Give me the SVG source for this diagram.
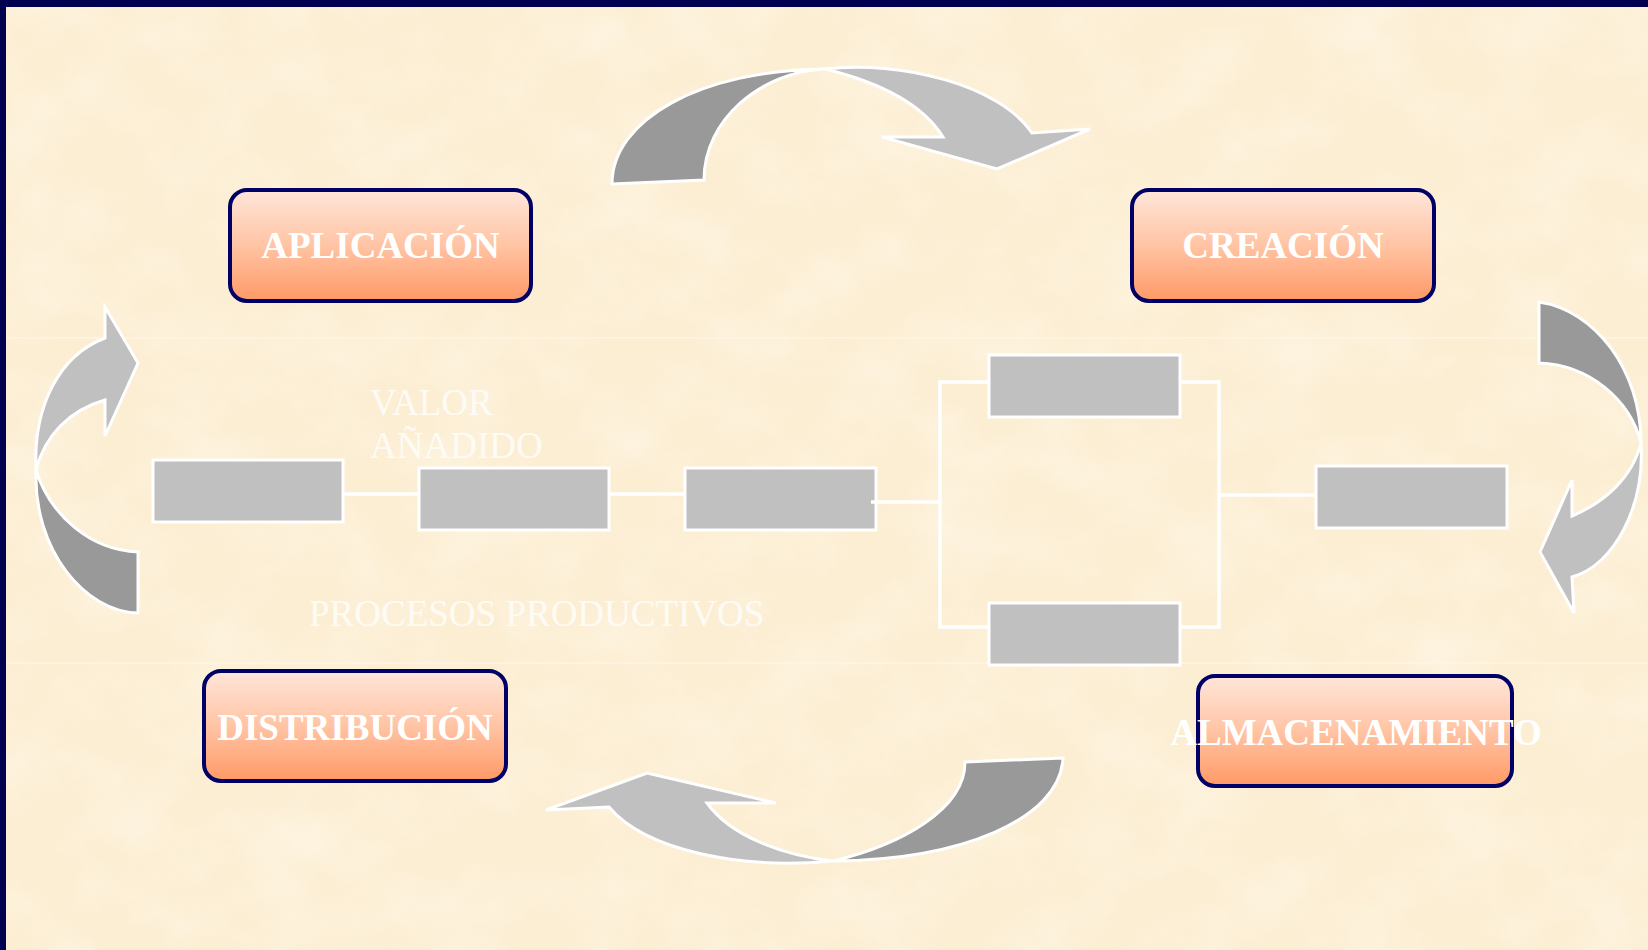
<svg xmlns="http://www.w3.org/2000/svg" width="1648" height="950" viewBox="0 0 1648 950">
<defs>
<linearGradient id="boxGrad" x1="0" y1="0" x2="0" y2="1">
<stop offset="0" stop-color="#FFE6DA"/>
<stop offset="0.5" stop-color="#FFC4A4"/>
<stop offset="1" stop-color="#FF9966"/>
</linearGradient>
<filter id="paper" x="0" y="0" width="100%" height="100%">
<feTurbulence type="fractalNoise" baseFrequency="0.012 0.016" numOctaves="4" seed="7" result="n"/>
<feColorMatrix in="n" type="matrix" values="0 0 0 0 1  0 0 0 0 0.97  0 0 0 0 0.9  1.2 0 0 0 -0.45"/>
</filter>
<style>
.bg{fill:#FCEED3}
.frame{fill:#000050}
.box{fill:url(#boxGrad);stroke:#000066;stroke-width:4}
.boxText{font-family:"Liberation Serif","Times New Roman",serif;font-weight:bold;font-size:37px;fill:#FFFFFF;text-anchor:middle}
.gray{fill:#C0C0C0;stroke:#FFFFFF;stroke-width:3}
.conn{stroke:#FFFFFF;stroke-width:3.5;fill:none}
.light{fill:#C0C0C0;stroke:#FFFFFF;stroke-width:3;stroke-linejoin:miter}
.dark{fill:#999999;stroke:#FFFFFF;stroke-width:3;stroke-linejoin:miter}
.label{font-family:"Liberation Serif","Times New Roman",serif;font-size:37px;fill:#FFFFFF;fill-opacity:0.8}
.seam{stroke:#FFF6E4;stroke-width:2;opacity:0.7}
</style>
</defs>
<rect class="bg" x="0" y="0" width="1648" height="950"/>
<rect x="0" y="0" width="1648" height="950" filter="url(#paper)" opacity="0.6"/>
<line class="seam" x1="6" y1="338" x2="1648" y2="338"/>
<line class="seam" x1="6" y1="663" x2="1648" y2="663"/>
<rect class="frame" x="0" y="0" width="1648" height="7"/>
<rect class="frame" x="0" y="0" width="6" height="950"/>

<g id="connectors">
<line class="conn" x1="343" y1="494" x2="419" y2="494"/>
<line class="conn" x1="609" y1="494" x2="685" y2="494"/>
<line class="conn" x1="871" y1="502" x2="940" y2="502"/>
<polyline class="conn" points="989,382 940,382 940,627 989,627"/>
<polyline class="conn" points="1180,382 1219,382 1219,627 1180,627"/>
<line class="conn" x1="1219" y1="495" x2="1316" y2="495"/>
</g>

<g id="arrow-top">
<path class="dark" d="M 612 184 C 612 120, 700 70, 825 69 C 760 72, 704 120, 704 180 Z"/>
<path class="light" d="M 825 69 C 900 60, 1000 85, 1032 133 L 1090 129 L 997 169 L 882 137 L 943 137 C 920 100, 870 80, 825 69 Z"/>
</g>
<g id="arrow-right">
<path class="dark" d="M 1539 302 C 1595 310, 1641 370, 1641 443 C 1630 400, 1590 365, 1539 363 Z"/>
<path class="light" d="M 1641 443 C 1645 505, 1615 565, 1572 577 L 1574 613 L 1540 552 L 1572 480 L 1572 516 C 1605 502, 1632 478, 1641 443 Z"/>
</g>
<g id="arrow-bottom">
<path class="dark" d="M 1063 758 C 1060 820, 960 860, 833 861 C 900 845, 965 810, 965 762 Z"/>
<path class="light" d="M 833 861 C 740 870, 645 850, 609 807 L 546 810 L 647 773 L 776 803 L 707 803 C 730 835, 780 855, 833 861 Z"/>
</g>
<g id="arrow-left">
<path class="light" d="M 105 338 C 60 355, 33 405, 36 470 C 45 435, 70 410, 105 400 L 105 436 L 138 363 L 105 307 Z"/>
<path class="dark" d="M 36 470 C 33 550, 85 612, 138 613 L 138 552 C 90 550, 50 515, 36 470 Z"/>
</g>

<g id="node-aplicacion">
<rect class="box" x="230" y="190" width="301" height="111" rx="17"/>
<text class="boxText" x="380.5" y="258">APLICACIÓN</text>
</g>
<g id="node-creacion">
<rect class="box" x="1132" y="190" width="302" height="111" rx="17"/>
<text class="boxText" x="1283" y="258">CREACIÓN</text>
</g>
<g id="node-distribucion">
<rect class="box" x="204" y="671" width="302" height="110" rx="17"/>
<text class="boxText" x="355" y="740">DISTRIBUCIÓN</text>
</g>
<g id="node-almacenamiento">
<rect class="box" x="1198" y="676" width="314" height="110" rx="17"/>
<text class="boxText" x="1356" y="745">ALMACENAMIENTO</text>
</g>

<g id="rect-1"><rect class="gray" x="153" y="460" width="190" height="62"/></g>
<g id="rect-2"><rect class="gray" x="419" y="468" width="190" height="62"/></g>
<g id="rect-3"><rect class="gray" x="685" y="468" width="191" height="62"/></g>
<g id="rect-4"><rect class="gray" x="989" y="355" width="191" height="62"/></g>
<g id="rect-5"><rect class="gray" x="989" y="603" width="191" height="62"/></g>
<g id="rect-6"><rect class="gray" x="1316" y="466" width="191" height="62"/></g>
<line class="conn" x1="871" y1="502" x2="880" y2="502"/>

<g id="labels">
<text class="label" x="370" y="415">VALOR</text>
<text class="label" x="370" y="458">AÑADIDO</text>
<text class="label" x="309" y="626">PROCESOS PRODUCTIVOS</text>
</g>
</svg>
